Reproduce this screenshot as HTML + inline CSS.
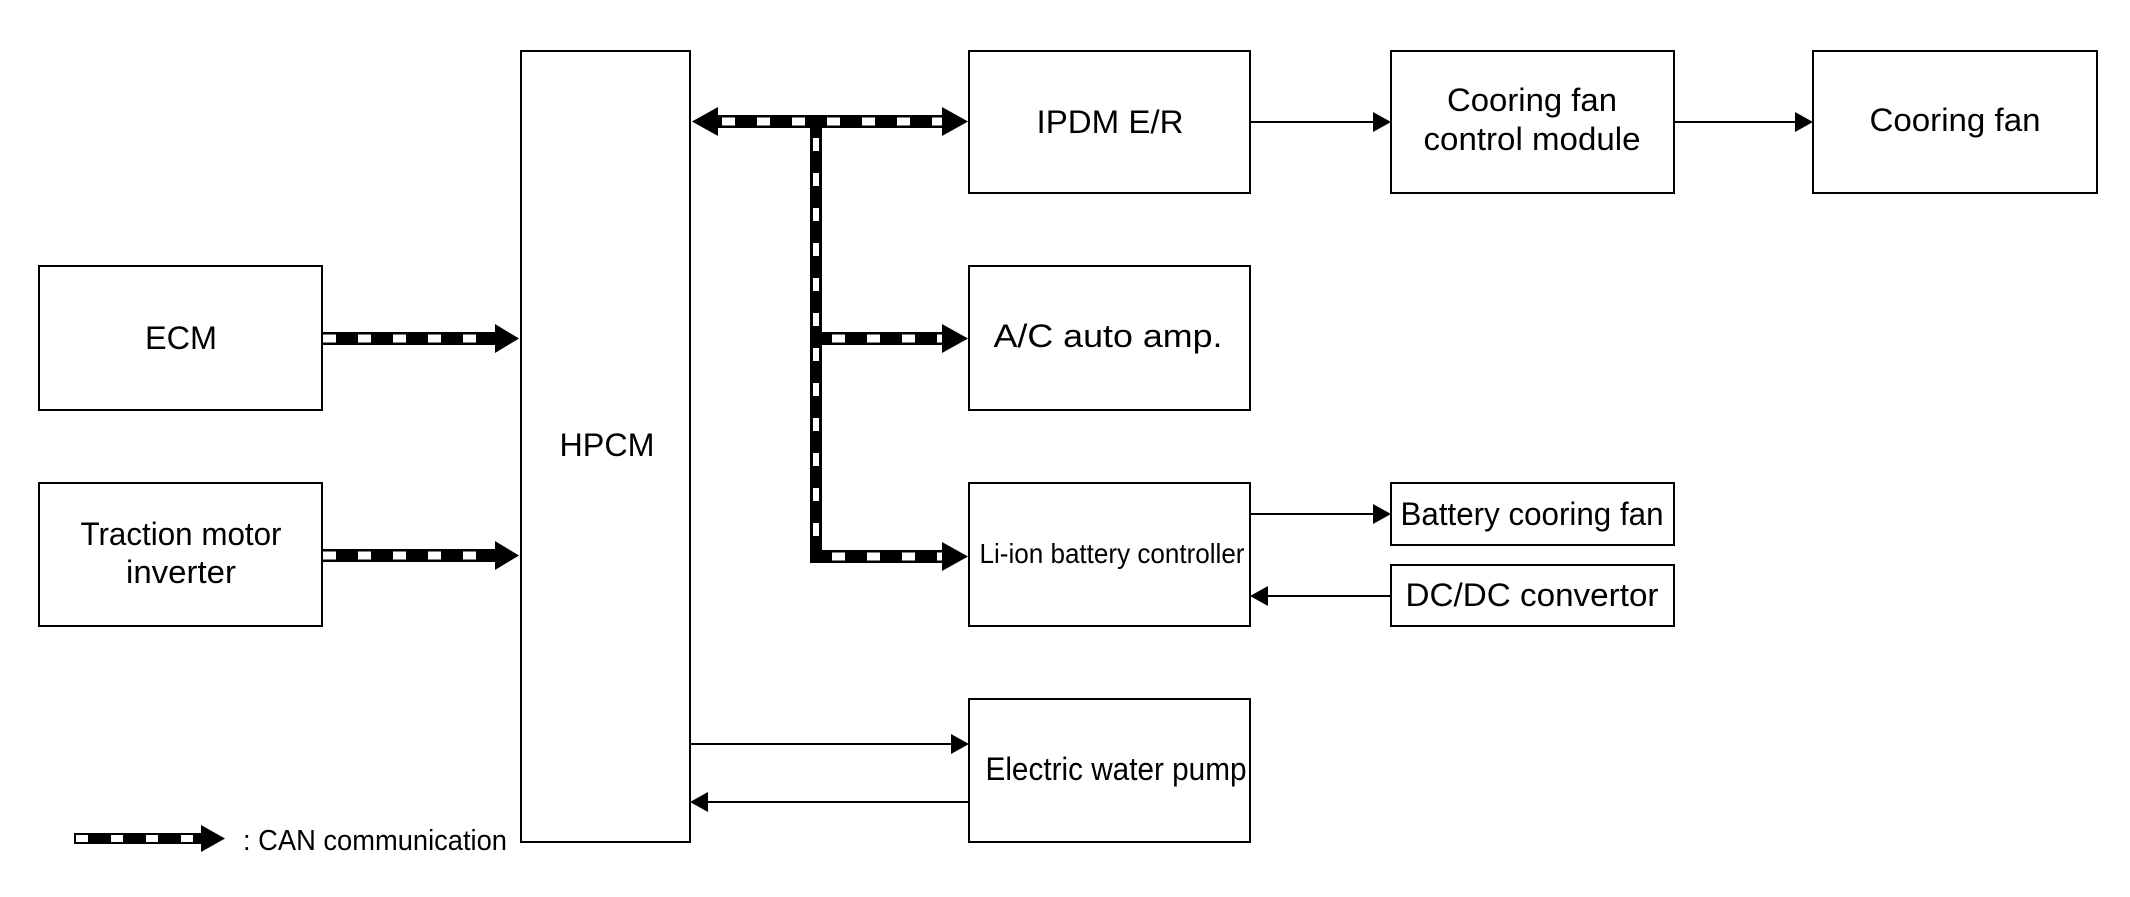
<!DOCTYPE html>
<html><head><meta charset="utf-8"><style>
html,body{margin:0;padding:0;background:#fff;}
svg{display:block;}
text{font-family:"Liberation Sans",Arial,sans-serif;font-size:32px;fill:#000;}
</style></head><body>
<svg width="2130" height="897" viewBox="0 0 2130 897" xmlns="http://www.w3.org/2000/svg">
<g fill="none" stroke="#000" stroke-width="2">
<rect x="39" y="266" width="283" height="144"/>
<rect x="39" y="483" width="283" height="143"/>
<rect x="521" y="51" width="169" height="791"/>
<rect x="969" y="51" width="281" height="142"/>
<rect x="969" y="266" width="281" height="144"/>
<rect x="969" y="483" width="281" height="143"/>
<rect x="969" y="699" width="281" height="143"/>
<rect x="1391" y="51" width="283" height="142"/>
<rect x="1813" y="51" width="284" height="142"/>
<rect x="1391" y="483" width="283" height="62"/>
<rect x="1391" y="565" width="283" height="61"/>
<line x1="1250" y1="122" x2="1376" y2="122"/>
<line x1="1674" y1="122" x2="1798" y2="122"/>
<line x1="1250" y1="514" x2="1376" y2="514"/>
<line x1="1266" y1="596" x2="1391" y2="596"/>
<line x1="690" y1="744" x2="953" y2="744"/>
<line x1="706" y1="802" x2="969" y2="802"/>
</g>
<g fill="#000">
<polygon points="1391,122 1373,112 1373,132"/>
<polygon points="1813,122 1795,112 1795,132"/>
<polygon points="1391,514 1373,504 1373,524"/>
<polygon points="1250,596 1268,586 1268,606"/>
<polygon points="969,744 951,734 951,754"/>
<polygon points="690,802 708,792 708,812"/>
</g>
<g>
<rect x="716" y="115" width="228" height="13" fill="#000"/>
<polygon points="692,121.5 718,107 718,136" fill="#000"/>
<polygon points="968,121.5 942,107 942,136" fill="#000"/>
<line x1="722" y1="121.5" x2="942" y2="121.5" stroke="#fff" stroke-width="8" stroke-dasharray="13 22"/>
<rect x="810" y="115" width="12" height="448" fill="#000"/>
<line x1="816" y1="138" x2="816" y2="545" stroke="#fff" stroke-width="6" stroke-dasharray="13 22"/>
<rect x="810" y="332" width="134" height="13" fill="#000"/>
<polygon points="968,338.5 942,324 942,353" fill="#000"/>
<line x1="832" y1="338.5" x2="942" y2="338.5" stroke="#fff" stroke-width="8" stroke-dasharray="13 22"/>
<rect x="810" y="550" width="134" height="13" fill="#000"/>
<polygon points="968,556.5 942,542 942,571" fill="#000"/>
<line x1="832" y1="556.5" x2="942" y2="556.5" stroke="#fff" stroke-width="8" stroke-dasharray="13 22"/>
<rect x="321" y="332" width="176" height="13" fill="#000"/>
<polygon points="519,338.5 495,324 495,353" fill="#000"/>
<line x1="323" y1="338.5" x2="495" y2="338.5" stroke="#fff" stroke-width="8" stroke-dasharray="13 22"/>
<rect x="321" y="549" width="176" height="13" fill="#000"/>
<polygon points="519,555.5 495,541 495,570" fill="#000"/>
<line x1="323" y1="555.5" x2="495" y2="555.5" stroke="#fff" stroke-width="8" stroke-dasharray="13 22"/>
<rect x="74" y="833" width="130" height="11" fill="#000"/>
<polygon points="225,838.5 201,825 201,852" fill="#000"/>
<line x1="76" y1="838.5" x2="200" y2="838.5" stroke="#fff" stroke-width="7" stroke-dasharray="12 23"/>
</g>
<g text-anchor="middle">
<text x="181" y="349" textLength="72" lengthAdjust="spacingAndGlyphs">ECM</text>
<text x="181" y="545" textLength="201" lengthAdjust="spacingAndGlyphs">Traction motor</text>
<text x="181" y="583" textLength="110" lengthAdjust="spacingAndGlyphs">inverter</text>
<text x="607" y="456" textLength="95" lengthAdjust="spacingAndGlyphs">HPCM</text>
<text x="1110" y="133" textLength="147" lengthAdjust="spacingAndGlyphs">IPDM E/R</text>
<text x="1532" y="111" textLength="170" lengthAdjust="spacingAndGlyphs">Cooring fan</text>
<text x="1532" y="150" textLength="217" lengthAdjust="spacingAndGlyphs">control module</text>
<text x="1955" y="131" textLength="171" lengthAdjust="spacingAndGlyphs">Cooring fan</text>
<text x="1108" y="347" textLength="229" lengthAdjust="spacingAndGlyphs">A/C auto amp.</text>
<text x="1112" y="563" textLength="265" lengthAdjust="spacingAndGlyphs" style="font-size:28px">Li-ion battery controller</text>
<text x="1532" y="525" textLength="263" lengthAdjust="spacingAndGlyphs">Battery cooring fan</text>
<text x="1532" y="606" textLength="253" lengthAdjust="spacingAndGlyphs">DC/DC convertor</text>
<text x="1116" y="780" textLength="261" lengthAdjust="spacingAndGlyphs">Electric water pump</text>
</g>
<text x="243" y="850" textLength="264" lengthAdjust="spacingAndGlyphs" style="font-size:29px">: CAN communication</text>
</svg>
</body></html>
